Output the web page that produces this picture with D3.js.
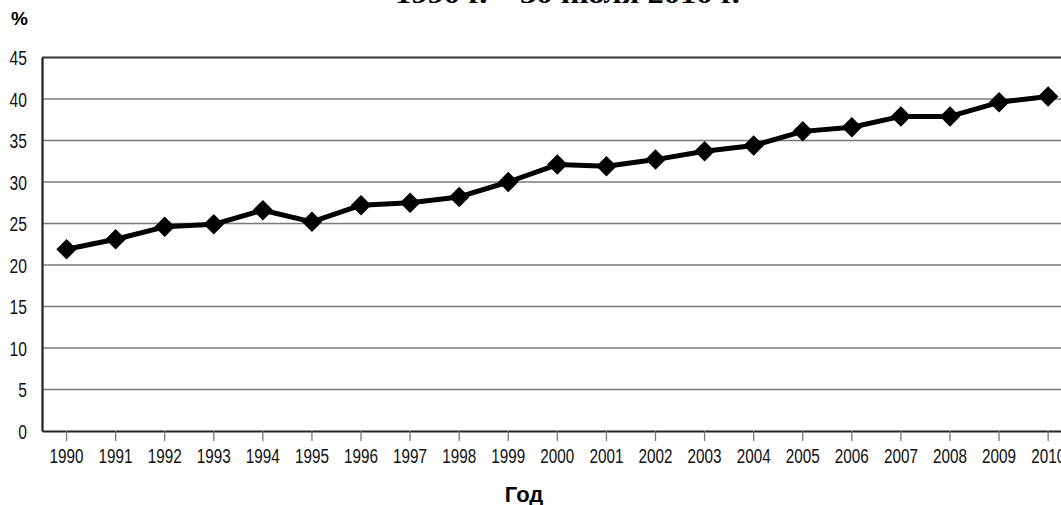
<!DOCTYPE html>
<html>
<head>
<meta charset="utf-8">
<script src="https://cdn.jsdelivr.net/npm/d3@7"></script>
<style>
  body { margin: 0; background: #fff; }
</style>
</head>
<body>
<script>
// data
var years = [1990, 1991, 1992, 1993, 1994, 1995, 1996, 1997, 1998, 1999, 2000,
             2001, 2002, 2003, 2004, 2005, 2006, 2007, 2008, 2009, 2010];
var values = [21.9, 23.1, 24.6, 24.9, 26.6, 25.2, 27.2, 27.5, 28.2, 30.0, 32.1,
              31.9, 32.7, 33.7, 34.4, 36.1, 36.6, 37.9, 37.9, 39.6, 40.3];
var yTicks = [0, 5, 10, 15, 20, 25, 30, 35, 40, 45];
var title = "1990 г. – 30 июля 2010 г.";
var yLabel = "%";
var xLabel = "Год";

var width = 1061
var height = 505
var plotLeft = 42
var plotTop = 57.5
var plotBottom = 431
var bandW = 49.08
var tickFont = "Liberation Sans, Arial, sans-serif"

var svg = d3.select("body")
			.append("svg")
			.attr("width", width)
			.attr("height", height);

var x = d3.scaleBand()
			.domain(years)
			.range([plotLeft, plotLeft + years.length * bandW]);

var y = d3.scaleLinear()
			.domain([0, 45])
			.range([plotBottom, plotTop]);

// title, cut off at the top of the picture
svg.append("text")
	.attr("x", 395)
	.attr("y", 3)
	.attr("textLength", 345)
	.attr("lengthAdjust", "spacingAndGlyphs")
	.style("font-family", "Liberation Serif, serif")
	.style("font-weight", "bold")
	.style("font-size", "26px")
	.text(title);

// gridlines
svg.append("g")
	.selectAll("line")
	.data(yTicks.filter(function(d) { return d > 0 && d < 45 }))
	.enter()
	.append("line")
	.attr("x1", plotLeft)
	.attr("x2", width)
	.attr("y1", function(d) { return y(d) })
	.attr("y2", function(d) { return y(d) })
	.style("stroke", "#7a7a7a")
	.style("stroke-width", 1.4);

// top border
svg.append("line")
	.attr("x1", plotLeft)
	.attr("x2", width)
	.attr("y1", y(45))
	.attr("y2", y(45))
	.style("stroke", "#333")
	.style("stroke-width", 2);

// y axis
var yAxis = svg.append("g")
	.attr("transform", "translate(" + plotLeft + ",0)")
	.call(d3.axisLeft(y).tickValues(yTicks).tickSize(0).tickPadding(15));
yAxis.select(".domain").style("stroke", "#222").style("stroke-width", 2.2);
yAxis.selectAll(".tick text")
	.style("font-family", tickFont)
	.style("font-size", "20px")
	.style("fill", "#111")
	.attr("dy", "0.36em")
	.attr("textLength", function(d) { return String(d).length * 8.7 })
	.attr("lengthAdjust", "spacingAndGlyphs");

// x axis
var xAxis = svg.append("g")
	.attr("transform", "translate(0," + plotBottom + ")")
	.call(d3.axisBottom(x).tickSizeOuter(0).tickSizeInner(10).tickPadding(8));
xAxis.select(".domain").style("stroke", "#222").style("stroke-width", 2.2);
xAxis.selectAll(".tick line").style("stroke", "#777").style("stroke-width", 1.3);
xAxis.selectAll(".tick text")
	.style("font-family", tickFont)
	.style("font-size", "20px")
	.style("fill", "#111")
	.attr("dy", "0.71em")
	.attr("textLength", 34)
	.attr("lengthAdjust", "spacingAndGlyphs");

// axis titles
svg.append("text")
	.attr("x", 19.5)
	.attr("y", 25)
	.attr("text-anchor", "middle")
	.style("font-family", "Liberation Sans, sans-serif")
	.style("font-weight", "bold")
	.style("font-size", "19px")
	.text(yLabel);

svg.append("text")
	.attr("x", 524)
	.attr("y", 502)
	.attr("text-anchor", "middle")
	.style("font-family", "Liberation Sans, sans-serif")
	.style("font-weight", "bold")
	.style("font-size", "22px")
	.text(xLabel);

// series
var cx = function(d, i) { return x(years[i]) + x.bandwidth() / 2 };

var line = d3.line()
			.x(cx)
			.y(function(d) { return y(d) });

svg.append("path")
	.datum(values)
	.attr("d", line)
	.style("fill", "none")
	.style("stroke", "#000")
	.style("stroke-width", 5)
	.style("stroke-linejoin", "round");

var diamond = d3.symbol().type(d3.symbolSquare).size(210);

svg.append("g")
	.selectAll("path")
	.data(values)
	.enter()
	.append("path")
	.attr("d", diamond)
	.attr("transform", function(d, i) {
		return "translate(" + cx(d, i) + "," + y(d) + ") rotate(45)";
	})
	.style("fill", "#000");
</script>
</body>
</html>
